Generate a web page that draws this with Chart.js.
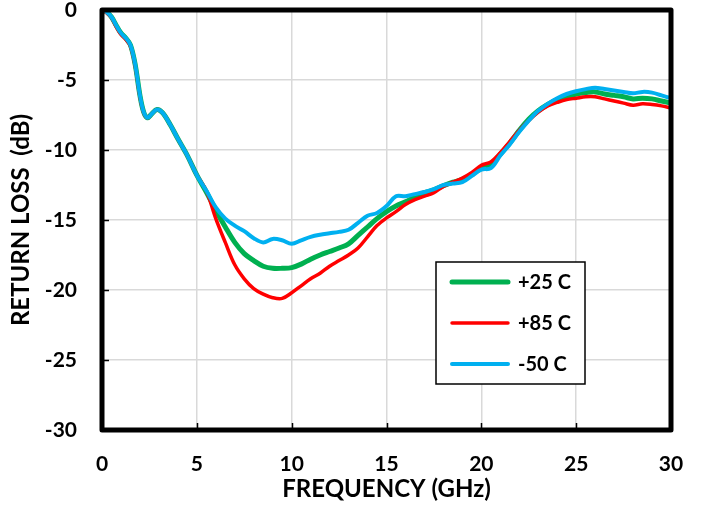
<!DOCTYPE html>
<html>
<head>
<meta charset="utf-8">
<script src="https://cdn.jsdelivr.net/npm/chart.js@4.4.1/dist/chart.umd.min.js"></script>
<style>
  html, body { margin: 0; padding: 0; background: #ffffff; }
  #wrap { position: relative; width: 701px; height: 506px; }
</style>
</head>
<body>
<div id="wrap"><canvas id="chart" width="701" height="506"></canvas></div>
<script>
// Frequency points (GHz)
const freqGHz = [0, 0.25, 0.5, 0.75, 1.0, 1.25, 1.5, 1.75, 2.0, 2.2, 2.4, 2.6, 2.9, 3.2, 3.6, 4.0, 4.5, 5.0,
  5.5, 6.0, 6.5, 7.0, 7.5, 8.0, 8.5, 9.0, 9.5, 10.0, 10.5, 11.0, 11.5, 12.0, 12.5, 13.0, 13.5, 14.0, 14.5,
  15.0, 15.5, 16.0, 16.5, 17.0, 17.5, 18.0, 18.5, 19.0, 19.5, 20.0, 20.5, 21.0, 21.5, 22.0, 22.5, 23.0,
  23.5, 24.0, 24.5, 25.0, 25.5, 26.0, 26.5, 27.0, 27.5, 28.0, 28.5, 29.0, 29.5, 30.0];

// Return loss (dB) at +25 C
const rl25C = [0, -0.15, -0.5, -1.1, -1.65, -2.0, -2.5, -3.9, -6.1, -7.3, -7.7, -7.45, -7.1, -7.35, -8.2, -9.2, -10.4, -11.8,
  -13.0, -14.3, -15.5, -16.6, -17.4, -17.9, -18.3, -18.45, -18.45, -18.4, -18.15, -17.8, -17.5, -17.25, -17.0, -16.7, -16.1, -15.5, -14.9,
  -14.4, -14.0, -13.7, -13.35, -13.05, -12.85, -12.55, -12.3, -12.1, -11.75, -11.3, -11.0, -10.3, -9.5, -8.6, -7.8, -7.2,
  -6.75, -6.4, -6.2, -6.0, -5.9, -5.85, -6.0, -6.1, -6.2, -6.35, -6.3, -6.35, -6.5, -6.65];

// Return loss (dB) at +85 C
const rl85C = [0, -0.2, -0.55, -1.2, -1.75, -2.1, -2.6, -4.0, -6.2, -7.35, -7.7, -7.45, -7.1, -7.35, -8.2, -9.2, -10.4, -11.8,
  -12.9, -14.9, -16.6, -18.2, -19.2, -19.9, -20.3, -20.55, -20.6, -20.2, -19.7, -19.2, -18.8, -18.3, -17.9, -17.5, -17.0, -16.2, -15.4,
  -14.85, -14.4, -13.9, -13.55, -13.3, -13.05, -12.6, -12.3, -12.0, -11.6, -11.1, -10.85, -10.2, -9.4, -8.6, -7.9, -7.3,
  -6.85, -6.6, -6.4, -6.3, -6.2, -6.2, -6.35, -6.5, -6.65, -6.8, -6.7, -6.75, -6.85, -7.0];

// Return loss (dB) at -50 C
const rlMinus50C = [0, -0.15, -0.5, -1.1, -1.65, -2.0, -2.5, -3.9, -6.1, -7.3, -7.7, -7.45, -7.1, -7.35, -8.2, -9.2, -10.4, -11.8,
  -12.9, -14.1, -14.9, -15.4, -15.8, -16.3, -16.6, -16.35, -16.45, -16.7, -16.45, -16.2, -16.05, -15.95, -15.85, -15.7, -15.2, -14.7, -14.5,
  -14.0, -13.3, -13.3, -13.15, -13.0, -12.8, -12.5, -12.4, -12.3, -11.85, -11.4, -11.3, -10.4, -9.6, -8.7, -7.9, -7.2,
  -6.7, -6.3, -6.0, -5.8, -5.65, -5.55, -5.65, -5.75, -5.85, -5.95, -5.85, -5.9, -6.1, -6.3];

const seriesLabels = ['+25 C', '+85 C', '-50 C'];
const seriesColors = ['#00b050', '#ff0000', '#00b0f0'];
const seriesWidths = [5, 3.5, 4];

const xTicks = [0, 5, 10, 15, 20, 25, 30];
const yTicks = [0, -5, -10, -15, -20, -25, -30];

const FONT = 'Lato, "Open Sans", sans-serif';

function toPoints(values) {
  return freqGHz.map((f, i) => ({ x: f, y: values[i] }));
}

// Thick black frame around the plot area plus short inward tick marks
const framePlugin = {
  id: 'frame',
  afterDatasetsDraw(chart) {
    const { ctx, chartArea: a, scales: { x, y } } = chart;
    ctx.save();
    ctx.strokeStyle = '#000';
    ctx.lineWidth = 1.5;
    ctx.beginPath();
    xTicks.slice(1, -1).forEach(v => {
      const px = Math.round(x.getPixelForValue(v)) + 0.5;
      ctx.moveTo(px, a.bottom); ctx.lineTo(px, a.bottom - 7);
    });
    yTicks.slice(1, -1).forEach(v => {
      const py = Math.round(y.getPixelForValue(v)) + 0.5;
      ctx.moveTo(a.left, py); ctx.lineTo(a.left + 7, py);
    });
    ctx.stroke();
    ctx.lineWidth = 5;
    ctx.lineJoin = 'round';
    ctx.strokeRect(a.left, a.top, a.right - a.left, a.bottom - a.top);
    ctx.restore();
  }
};

// Boxed legend inside the plot area
const boxLegendPlugin = {
  id: 'boxLegend',
  afterDraw(chart) {
    const { ctx } = chart;
    const box = { x: 436, y: 262, w: 149, h: 122 };
    ctx.save();
    ctx.fillStyle = '#fff';
    ctx.fillRect(box.x, box.y, box.w, box.h);
    ctx.strokeStyle = '#000';
    ctx.lineWidth = 1.5;
    ctx.strokeRect(box.x, box.y, box.w, box.h);
    chart.data.datasets.forEach((ds, i) => {
      const cy = box.y + 20 + i * 41;
      ctx.strokeStyle = ds.borderColor;
      ctx.lineWidth = ds.borderWidth;
      ctx.lineCap = 'round';
      ctx.beginPath();
      ctx.moveTo(box.x + 16, cy);
      ctx.lineTo(box.x + 72, cy);
      ctx.stroke();
      ctx.fillStyle = '#000';
      ctx.font = 'bold 20px ' + FONT;
      ctx.textBaseline = 'middle';
      ctx.textAlign = 'left';
      ctx.fillText(ds.label, box.x + 82, cy + 1);
    });
    ctx.restore();
  }
};

const datasets = [rl25C, rl85C, rlMinus50C].map((vals, i) => ({
  label: seriesLabels[i],
  data: toPoints(vals),
  borderColor: seriesColors[i],
  backgroundColor: seriesColors[i],
  borderWidth: seriesWidths[i],
  pointRadius: 0,
  tension: 0.35,
  fill: false,
  order: 3 - i
}));

new Chart(document.getElementById('chart'), {
  type: 'line',
  data: { datasets },
  options: {
    responsive: false,
    animation: false,
    layout: { padding: { left: 0, right: 30, top: 10, bottom: 0 } },
    plugins: {
      legend: { display: false },
      tooltip: { enabled: false }
    },
    scales: {
      x: {
        type: 'linear',
        min: 0, max: 30,
        afterFit(s) { s.height = 76; s.paddingLeft = 0; s.paddingRight = 0; },
        afterBuildTicks(s) { s.ticks = xTicks.map(v => ({ value: v })); },
        grid: { color: '#d9d9d9', lineWidth: 1.5, drawTicks: false },
        border: { display: false },
        ticks: { color: '#000', padding: 22, font: { family: FONT, size: 21, weight: 'bold' } },
        title: {
          display: true, text: 'FREQUENCY (GHz)', color: '#000',
          font: { family: FONT, size: 24, weight: 'bold' },
          padding: { top: 0, bottom: 2 }
        }
      },
      y: {
        type: 'linear',
        min: -30, max: 0,
        afterFit(s) { s.width = 102; s.paddingTop = 0; s.paddingBottom = 0; },
        afterBuildTicks(s) { s.ticks = yTicks.map(v => ({ value: v })); },
        grid: { color: '#d9d9d9', lineWidth: 1.5, drawTicks: false },
        border: { display: false },
        ticks: { color: '#000', padding: 25, font: { family: FONT, size: 21, weight: 'bold' } },
        title: {
          display: true, text: 'RETURN LOSS  (dB)', color: '#000',
          font: { family: FONT, size: 24, weight: 'bold' },
          padding: { top: 7, bottom: 0 }
        }
      }
    }
  },
  plugins: [framePlugin, boxLegendPlugin]
});
</script>
</body>
</html>
